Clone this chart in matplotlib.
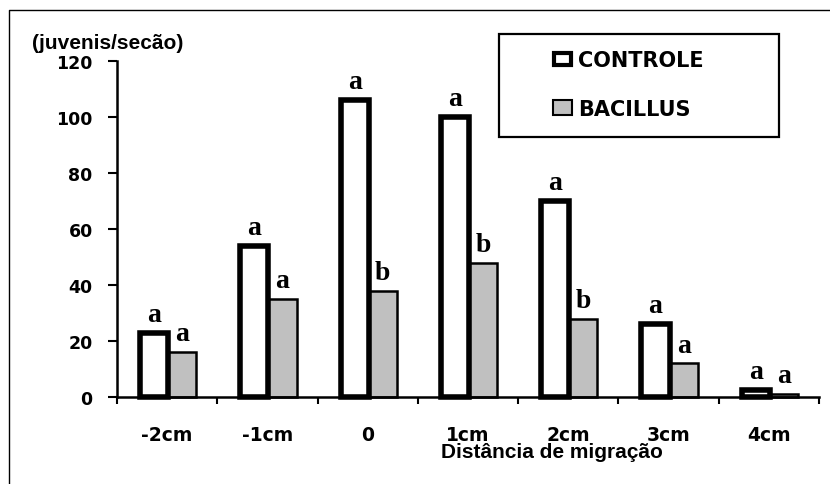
import matplotlib
matplotlib.use("Agg")
import matplotlib.pyplot as plt
from matplotlib.patches import Rectangle
from matplotlib.lines import Line2D

# ---- data ----
categories = ["-2cm", "-1cm", "0", "1cm", "2cm", "3cm", "4cm"]
controle = [23, 54, 106, 100, 70, 26, 2.5]
bacillus = [16, 35, 38, 48, 28, 12, 1]
controle_letters = ["a", "a", "a", "a", "a", "a", "a"]
bacillus_letters = ["a", "a", "b", "b", "b", "a", "a"]
series_names = ["CONTROLE", "BACILLUS"]
y_ticks = [0, 20, 40, 60, 80, 100, 120]
y_label = "(juvenis/secão)"
x_label = "Distância de migração"

# ---- layout ----
W, H = 830, 485
fig = plt.figure(figsize=(W / 100, H / 100), dpi=100)
fig.patch.set_facecolor("white")

ax = fig.add_axes([117 / W, 1 - 398 / H, (819 - 117) / W, 336 / H])
ax.set_xlim(0, len(categories))
ax.set_ylim(0, 120)

bar_w = 0.28
centers = [i + 0.5 for i in range(len(categories))]
x_ctrl = [c - bar_w / 2 + 0.01 for c in centers]
x_bac = [c + bar_w / 2 + 0.01 for c in centers]

GRAY = "#C0C0C0"
b1 = ax.bar(x_ctrl, controle, width=bar_w, color="white", edgecolor="black",
            linewidth=4, zorder=3, clip_on=False)
b2 = ax.bar(x_bac, bacillus, width=bar_w, color=GRAY, edgecolor="black",
            linewidth=1.8, zorder=2, clip_on=False)

letter_font = dict(family="Liberation Serif", weight="bold", size=20)
for x, v, t in zip(x_ctrl, controle, controle_letters):
    ax.annotate(t, xy=(x, v), xytext=(0, 8.5), textcoords="offset points",
                ha="center", va="baseline", **letter_font)
for x, v, t in zip(x_bac, bacillus, bacillus_letters):
    ax.annotate(t, xy=(x, v), xytext=(0, 8.5), textcoords="offset points",
                ha="center", va="baseline", **letter_font)

# spines
for s in ["top", "right"]:
    ax.spines[s].set_visible(False)
for s in ["left", "bottom"]:
    ax.spines[s].set_linewidth(1.8)
    ax.spines[s].set_zorder(4)

# ticks
ax.set_yticks(y_ticks)
ax.set_yticklabels([str(t) for t in y_ticks], fontsize=12.5, fontweight="bold",
                   family="DejaVu Sans")
ax.tick_params(axis="y", direction="out", length=6.5, width=1.5, pad=11)

ax.set_xticks(centers)
ax.set_xticklabels(categories, fontsize=13.5, fontweight="bold", family="DejaVu Sans")
ax.tick_params(axis="x", which="major", length=0, pad=20)
ax.set_xticks(range(len(categories) + 1), minor=True)
ax.tick_params(axis="x", which="minor", direction="out", length=5, width=1.5)


def fpos(x, y):
    return x / W, 1 - y / H


# axis titles
fig.text(*fpos(107.5, 49), y_label, ha="center", va="baseline",
         family="Liberation Sans", weight="bold", size=15)
fig.text(*fpos(552, 458), x_label, ha="center", va="baseline",
         family="Liberation Sans", weight="bold", size=15)

# legend (manual box)
lx0, ly0, lx1, ly1 = 499, 35, 779, 138
fig.add_artist(Rectangle(fpos(lx0, ly1), (lx1 - lx0) / W, (ly1 - ly0) / H,
                         transform=fig.transFigure, fill=False,
                         edgecolor="black", linewidth=1.6))
fig.add_artist(Rectangle(fpos(554, 66), 17 / W, 12 / H, transform=fig.transFigure,
                         facecolor="white", edgecolor="black", linewidth=3))
fig.add_artist(Rectangle(fpos(553, 116), 19 / W, 15 / H, transform=fig.transFigure,
                         facecolor=GRAY, edgecolor="black", linewidth=1.5))
fig.text(*fpos(578, 67), series_names[0], ha="left", va="baseline",
         family="DejaVu Sans", weight="bold", size=15)
fig.text(*fpos(578, 116), series_names[1], ha="left", va="baseline",
         family="DejaVu Sans", weight="bold", size=15)

# outer frame (partially visible)
fig.add_artist(Line2D([8.5 / W, 8.5 / W, 1.0], [0, 1 - 10.5 / H, 1 - 10.5 / H],
                      transform=fig.transFigure, color="black", linewidth=1))

fig.savefig("out.png", dpi=100)
